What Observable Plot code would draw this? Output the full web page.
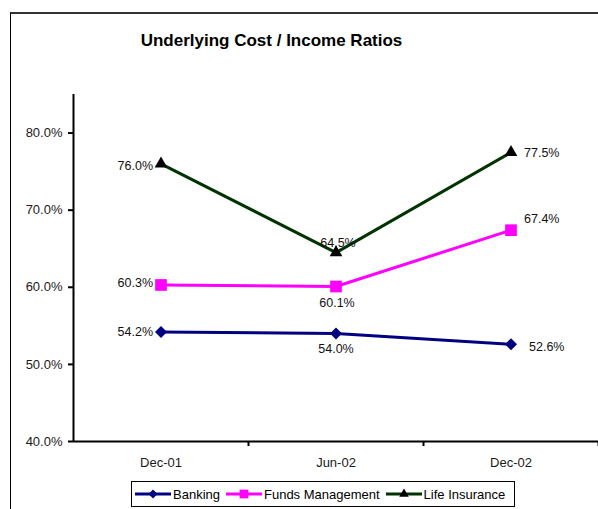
<!DOCTYPE html>
<html>
<head>
<meta charset="utf-8">
<script src="https://cdn.jsdelivr.net/npm/d3@7"></script>
<script src="https://cdn.jsdelivr.net/npm/@observablehq/plot@0.6"></script>
<style>
  html, body { margin: 0; padding: 0; background: #fff; }
  body { font-family: "Liberation Sans", Arial, sans-serif; }
  #wrap { position: relative; width: 598px; height: 509px; overflow: hidden; }
  #border { position: absolute; left: 10px; top: 12px; width: 700px; height: 700px;
            border-left: 1px solid #000; border-top: 2px solid #333; }
  #title { position: absolute; left: 0; width: 543px; top: 31px; text-align: center;
           font-size: 17px; font-weight: bold; color: #000; }
  #chart { position: absolute; left: 0; top: 0; }
  #legend { position: absolute; left: 131px; top: 481px; width: 384px; height: 26px;
            border: 1px solid #000; box-sizing: border-box; display: flex; align-items: center;
            padding-left: 3px; font-size: 13px; color: #000; white-space: nowrap; }
  #legend .item { display: flex; align-items: center; margin-right: 6px; }
  #legend svg { margin-right: 2px; }
</style>
</head>
<body>
<div id="wrap">
  <div id="border"></div>
  <div id="title">Underlying Cost / Income Ratios</div>
  <div id="chart"></div>
  <div id="legend"></div>
</div>
<script>
const categories = ["Dec-01", "Jun-02", "Dec-02"];
const seriesNames = ["Banking", "Funds Management", "Life Insurance"];
const banking = [54.2, 54.0, 52.6];
const funds = [60.3, 60.1, 67.4];
const life = [76.0, 64.5, 77.5];
const yTicks = [40, 50, 60, 70, 80];

const lineColors = ["#000080", "#FF00FF", "#003300"];
const markerFills = ["#000080", "#FF00FF", "#000000"];
const symbols = ["diamond2", "square", "triangle"];
const markerR = [5.4, 6.6, 4.7];

const seriesValues = [banking, funds, life];
const rows = seriesNames.flatMap((s, si) =>
  categories.map((c, i) => ({series: s, si, i, cat: c, value: seriesValues[si][i]})));

// label placement (style only)
const place = {
  left:  [{dx: -8, dy: 0}, {dx: -8, dy: -2}, {dx: -8, dy: 2}],
  mid:   [{dx: 0, dy: 15}, {dx: 1, dy: 16}, {dx: 2, dy: -10}],
  right: [{dx: 18, dy: 3}, {dx: 13, dy: -11}, {dx: 13, dy: 1}]
};
const fmt = v => v.toFixed(1) + "%";
const font = "\"Liberation Sans\", Arial, sans-serif";

const labelMarks = [];
seriesNames.forEach((s, si) => {
  const sub = rows.filter(r => r.si === si);
  labelMarks.push(Plot.text(sub.filter(r => r.i === 0), {x: "i", y: "value", text: d => fmt(d.value),
    textAnchor: "end", dx: place.left[si].dx, dy: place.left[si].dy, fontSize: 12.5, fill: "#111"}));
  labelMarks.push(Plot.text(sub.filter(r => r.i === 1), {x: "i", y: "value", text: d => fmt(d.value),
    textAnchor: "middle", dx: place.mid[si].dx, dy: place.mid[si].dy, fontSize: 12.5, fill: "#111"}));
  labelMarks.push(Plot.text(sub.filter(r => r.i === 2), {x: "i", y: "value", text: d => fmt(d.value),
    textAnchor: "start", dx: place.right[si].dx, dy: place.right[si].dy, fontSize: 12.5, fill: "#111"}));
});

const lineMarks = seriesNames.map((s, si) =>
  Plot.line(rows.filter(r => r.si === si), {x: "i", y: "value", stroke: lineColors[si], strokeWidth: 3}));
const dotMarks = seriesNames.map((s, si) =>
  Plot.dot(rows.filter(r => r.si === si), {x: "i", y: "value", symbol: () => symbols[si],
    r: markerR[si], fill: markerFills[si], stroke: "none"}));

const chart = Plot.plot({
  width: 598,
  height: 509,
  marginLeft: 73,
  marginRight: 0,
  marginTop: 94,
  marginBottom: 68,
  style: {fontFamily: font, fontSize: "13px", color: "#000", background: "transparent", overflow: "visible"},
  x: {type: "linear", domain: [-0.5, categories.length - 0.5], axis: null},
  y: {domain: [40, 85], axis: null},
  symbol: {type: "identity"},
  marks: [
    Plot.axisY({ticks: yTicks, tickFormat: fmt, tickSize: 5, tickPadding: 6, strokeWidth: 2, fontSize: 13, fill: "#1a1a1a", label: null}),
    Plot.axisX({ticks: categories.map((c, i) => i), tickFormat: i => categories[i], tickSize: 0, tickPadding: 16, fontSize: 13, fill: "#1a1a1a", label: null}),
    Plot.axisX({ticks: categories.map((c, i) => i + 0.5), tickFormat: () => "", tickSize: 5, strokeWidth: 2, label: null}),
    Plot.ruleY([40], {strokeWidth: 2}),
    Plot.ruleX([-0.5], {y1: 40, y2: 85, strokeWidth: 2}),
    ...lineMarks,
    ...dotMarks,
    ...labelMarks
  ]
});
document.getElementById("chart").appendChild(chart);

// legend
const legend = document.getElementById("legend");
seriesNames.forEach((s, si) => {
  const item = document.createElement("div");
  item.className = "item";
  const sym = d3.symbol(d3["symbol" + symbols[si].charAt(0).toUpperCase() + symbols[si].slice(1)],
    Math.PI * (markerR[si] * 0.75) ** 2)();
  item.innerHTML = `<svg width="36" height="12"><line x1="0" x2="36" y1="6" y2="6" stroke="${lineColors[si]}" stroke-width="3"/>` +
    `<path d="${sym}" transform="translate(18,6)" fill="${markerFills[si]}"/></svg><span>${s}</span>`;
  legend.appendChild(item);
});
</script>
</body>
</html>
